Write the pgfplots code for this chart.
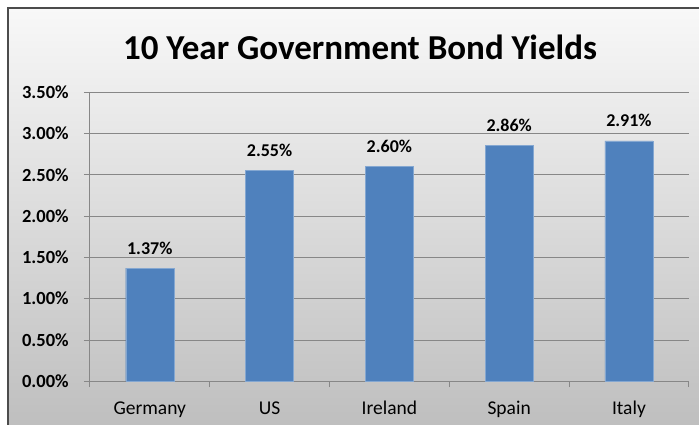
\documentclass[border=0pt]{standalone}
\usepackage{pgfplots}
\pgfplotsset{compat=1.18}
\usepackage{fontspec}
\setmainfont{Carlito}
\definecolor{barblue}{HTML}{4F81BD}
\definecolor{gridgray}{HTML}{878787}
\definecolor{bgtop}{HTML}{F8F8F8}
\definecolor{bgbottom}{HTML}{BEBEBE}
\begin{document}
\begin{tikzpicture}[x=1pt,y=1pt]
\begin{scope}
\clip (0,0) rectangle (699,425);
\shade[top color=bgtop, bottom color=bgbottom] (8,-5) rectangle (720,417);
\draw[line width=1.6pt, black!70] (8,-20) rectangle (720,417);
\end{scope}
\node[font=\fontsize{35}{40}\selectfont\bfseries] at (360,378) {10 Year Government Bond Yields};
\begin{axis}[
  at={(75,53)}, anchor=south west,
  scale only axis, width=599pt, height=289pt,
  xmin=-0.5, xmax=4.5, ymin=0, ymax=3.5,
  axis x line=bottom, axis y line=left,
  axis line style={gridgray, line width=0.8pt, -},
  tick align=outside, major tick length=6pt,
  tick style={gridgray, line width=0.8pt},
  ymajorgrids, grid style={gridgray, line width=0.8pt},
  /pgf/number format/assume math mode=true,
  ytick={0,0.5,1,1.5,2,2.5,3,3.5},
  yticklabels={0.00\%,0.50\%,1.00\%,1.50\%,2.00\%,2.50\%,3.00\%,3.50\%},
  yticklabel style={font=\fontsize{18.5}{20}\selectfont\bfseries, anchor=east, inner sep=0pt, xshift=-15pt},
  xtick={-0.5,0.5,1.5,2.5,3.5,4.5},
  xticklabels={},
  extra x ticks={0,1,2,3,4},
  extra x tick labels={Germany,US,Ireland,Spain,Italy},
  extra x tick style={major tick length=0pt, xmajorgrids=false,
    tick label style={font=\fontsize{19.5}{22}\selectfont, anchor=base, inner sep=0pt, yshift=-33pt}},
  clip=false,
]
\addplot[ybar, bar width=48pt, fill=barblue, draw=barblue!70!white,
  nodes near coords={\pgfmathprintnumber[fixed,fixed zerofill,precision=2,assume math mode=true]{\pgfplotspointmeta}\%},
  every node near coord/.append style={font=\fontsize{18}{20}\selectfont\bfseries, black, anchor=base, inner sep=0pt, yshift=14pt}]
  coordinates {(0,1.37) (1,2.55) (2,2.60) (3,2.86) (4,2.91)};
\end{axis}
\pgfresetboundingbox
\path[use as bounding box] (0,0) rectangle (699,425);
\end{tikzpicture}
\end{document}
